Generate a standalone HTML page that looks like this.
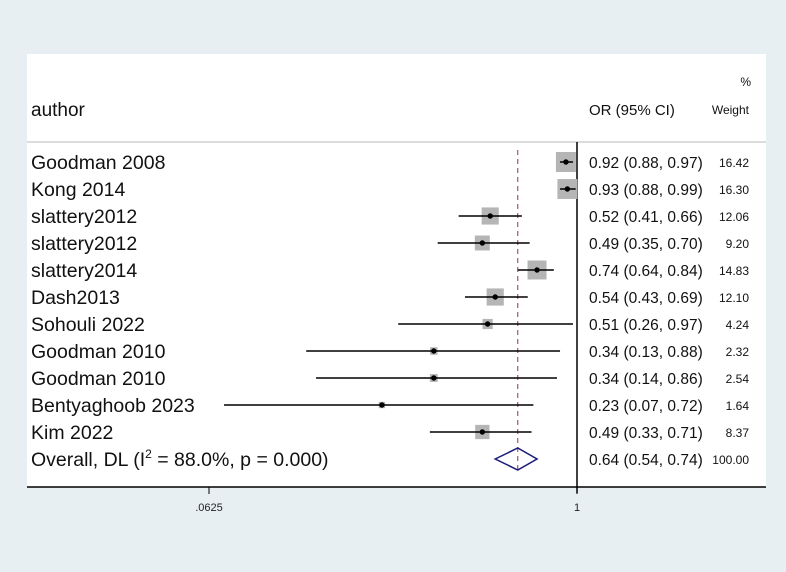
<!DOCTYPE html>
<html><head><meta charset="utf-8"><style>
body{margin:0;background:#e8eff2;}
svg{display:block;font-family:"Liberation Sans",sans-serif;}
</style></head><body>
<svg id="c" width="786" height="572"></svg>
<script>
const authors=["Goodman 2008","Kong 2014","slattery2012","slattery2012","slattery2014","Dash2013","Sohouli 2022","Goodman 2010","Goodman 2010","Bentyaghoob 2023","Kim 2022"];
const orVals=[0.92,0.93,0.52,0.49,0.74,0.54,0.51,0.34,0.34,0.23,0.49];
const lowVals=[0.88,0.88,0.41,0.35,0.64,0.43,0.26,0.13,0.14,0.07,0.33];
const highVals=[0.97,0.99,0.66,0.70,0.84,0.69,0.97,0.88,0.86,0.72,0.71];
const weights=[16.42,16.30,12.06,9.20,14.83,12.10,4.24,2.32,2.54,1.64,8.37];
const overall=[0.64,0.54,0.74];
const tickVals=[0.0625,1];
const tickLabels=[".0625","1"];
const NS="http://www.w3.org/2000/svg";
const svg=document.getElementById('c');
function x(v){return 577+Math.log2(v)*92;}
function rowY(i){return 162+i*27;}
function el(t,a,txt){const e=document.createElementNS(NS,t);for(const k in a)e.setAttribute(k,a[k]);if(txt!==undefined)e.textContent=txt;svg.appendChild(e);return e;}
let e;
e=el('rect',{x:27,y:54,width:739,height:433,fill:'#fff'});


e=el('line',{x1:27,x2:766,y1:142,y2:142,stroke:'#dcdcdc','stroke-width':2});


e=el('text',{x:31,y:116,'font-size':19,fill:'#111'},'author');


e=el('text',{x:589,y:115,'font-size':15,fill:'#111'},'OR (95% CI)');


e=el('text',{x:749,y:114,'font-size':12,fill:'#111','text-anchor':'end'},'Weight');


e=el('text',{x:751,y:86,'font-size':12,fill:'#111','text-anchor':'end'},'%');


e=el('line',{x1:577,x2:577,y1:142,y2:493,stroke:'#000','stroke-width':1.5});


e=el('line',{x1:x(overall[0]),x2:x(overall[0]),y1:150,y2:472,stroke:'#a0304a','stroke-width':1,'stroke-dasharray':'5,4'});


for(let i=0;i<authors.length;i++){
  const y=rowY(i),s=20*Math.sqrt(weights[i]/16.42);
  e=el('text',{x:31,y:y+7,'font-size':19.5,fill:'#111'},authors[i]);
  
  
  e=el('rect',{x:x(orVals[i])-s/2,y:y-s/2,width:s,height:s,fill:'#b5b5b5'});
  
  
  e=el('line',{x1:x(lowVals[i]),x2:x(highVals[i]),y1:y,y2:y,stroke:'#000','stroke-width':1.5});
  
  
  e=el('circle',{cx:x(orVals[i]),cy:y,r:2.7,fill:'#000'});
  
  
  e=el('text',{x:589,y:y+6,'font-size':15.5,fill:'#111'},orVals[i].toFixed(2)+' ('+lowVals[i].toFixed(2)+', '+highVals[i].toFixed(2)+')');
  
  
  e=el('text',{x:749,y:y+5,'font-size':12,fill:'#111','text-anchor':'end'},weights[i].toFixed(2));
  
  
}
const oy=rowY(authors.length);
e=el('text',{x:31,y:oy+7,'font-size':19.5,fill:'#111'});
e.innerHTML='Overall, DL (I<tspan dy="-8" font-size="12">2</tspan><tspan dy="8"> = 88.0%, p = 0.000)</tspan>';


const ox=x(overall[0]);
e=el('polygon',{points:`${x(overall[1])},${oy} ${ox},${oy-11} ${x(overall[2])},${oy} ${ox},${oy+11}`,fill:'none',stroke:'#1a1a7a','stroke-width':1.5});


e=el('text',{x:589,y:oy+6,'font-size':15.5,fill:'#111'},overall[0].toFixed(2)+' ('+overall[1].toFixed(2)+', '+overall[2].toFixed(2)+')');


e=el('text',{x:749,y:oy+5,'font-size':12,fill:'#111','text-anchor':'end'},'100.00');


e=el('line',{x1:27,x2:766,y1:487,y2:487,stroke:'#000','stroke-width':1.5});


tickVals.forEach((v,i)=>{
  e=el('line',{x1:x(v),x2:x(v),y1:487,y2:494,stroke:'#000','stroke-width':1});
  
  
  e=el('text',{x:x(v),y:511,'font-size':11,fill:'#222','text-anchor':'middle'},tickLabels[i]);
  
  
});
</script>
</body></html>
